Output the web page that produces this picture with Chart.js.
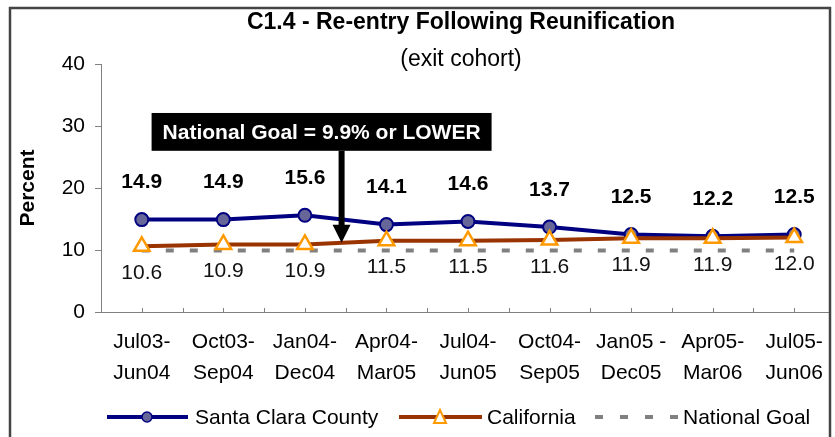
<!DOCTYPE html>
<html>
<head>
<meta charset="utf-8">
<script src="https://cdn.jsdelivr.net/npm/chart.js@4.4.1/dist/chart.umd.min.js"></script>
<style>
  html, body { margin: 0; padding: 0; background: #fff; }
  #wrap { width: 835px; height: 437px; }
</style>
</head>
<body>
<div id="wrap"><canvas id="myChart" width="835" height="437"></canvas></div>
<script>
// data
const periods = [
    ['Jul03-', 'Jun04'],
    ['Oct03-', 'Sep04'],
    ['Jan04-', 'Dec04'],
    ['Apr04-', 'Mar05'],
    ['Jul04-', 'Jun05'],
    ['Oct04-', 'Sep05'],
    ['Jan05 -', 'Dec05'],
    ['Apr05-', 'Mar06'],
    ['Jul05-', 'Jun06'],
];
const santaClara = [14.9, 14.9, 15.6, 14.1, 14.6, 13.7, 12.5, 12.2, 12.5];
const california = [10.6, 10.9, 10.9, 11.5, 11.5, 11.6, 11.9, 11.9, 12.0];
const nationalGoal = [9.9, 9.9, 9.9, 9.9, 9.9, 9.9, 9.9, 9.9, 9.9];
const yMin = 0, yMax = 40, yStep = 10;

const FONT = "'Liberation Sans', Arial, sans-serif";
const NAVY = '#000080';
const SLATE = '#666699';
const BROWN = '#993300';
const ORANGE = '#FF9900';
const GRAY = '#808080';

// titles, frame, goal callout, value labels, legend
const decorations = {
    id: 'decorations',
    beforeDraw(chart) {
        const ctx = chart.ctx;
        ctx.save();
        ctx.fillStyle = '#fff';
        ctx.fillRect(0, 0, chart.width, chart.height);
        ctx.restore();
    },
    afterDatasetsDraw(chart) {
        const ctx = chart.ctx;
        ctx.save();
        ctx.textAlign = 'center';
        ctx.textBaseline = 'middle';
        // santa clara labels above
        ctx.font = 'bold 21px ' + FONT;
        ctx.fillStyle = '#000';
        chart.getDatasetMeta(0).data.forEach((pt, i) => {
            ctx.fillText(santaClara[i].toFixed(1), pt.x, pt.y - 37);
        });
        // california labels below
        ctx.font = '21px ' + FONT;
        ctx.fillStyle = '#111';
        chart.getDatasetMeta(1).data.forEach((pt, i) => {
            ctx.fillText(california[i].toFixed(1), pt.x, pt.y + 27);
        });
        ctx.restore();
    },
    afterDraw(chart) {
        const ctx = chart.ctx;
        const area = chart.chartArea;
        const x = chart.scales.x;
        const y = chart.scales.y;
        ctx.save();

        // little tick marks along the x axis
        ctx.strokeStyle = GRAY;
        ctx.lineWidth = 1;
        const half = (area.right - area.left) / (periods.length * 2);
        for (let k = 1; k <= periods.length * 2; k++) {
            const px = Math.round(area.left + k * half) + 0.5;
            ctx.beginPath();
            ctx.moveTo(px, area.bottom);
            ctx.lineTo(px, area.bottom - 4);
            ctx.stroke();
        }

        // title
        ctx.fillStyle = '#000';
        ctx.textAlign = 'center';
        ctx.textBaseline = 'middle';
        ctx.font = 'bold 23px ' + FONT;
        ctx.fillText('C1.4 - Re-entry Following Reunification', 461, 23);
        ctx.font = '23px ' + FONT;
        ctx.fillText('(exit cohort)', 461, 60);

        // national goal callout with arrow down to the california line
        const at = 2.45;
        const i0 = Math.floor(at);
        const tipVal = california[i0] + (california[i0 + 1] - california[i0]) * (at - i0);
        const ax = x.getPixelForValue(at);
        const ay = y.getPixelForValue(tipVal);
        const boxTop = y.getPixelForValue(32.1);
        const boxBot = y.getPixelForValue(26);
        const boxL = ax - 190, boxR = ax + 150;
        ctx.fillStyle = '#000';
        ctx.fillRect(ax - 3, boxBot, 6, ay - boxBot - 16);
        ctx.beginPath();
        ctx.moveTo(ax - 9, ay - 18);
        ctx.lineTo(ax + 9, ay - 18);
        ctx.lineTo(ax, ay);
        ctx.closePath();
        ctx.fill();
        ctx.fillRect(boxL, boxTop, boxR - boxL, boxBot - boxTop);
        ctx.fillStyle = '#fff';
        ctx.font = 'bold 21px ' + FONT;
        ctx.fillText('National Goal = 9.9% or LOWER', (boxL + boxR) / 2, (boxTop + boxBot) / 2 + 1);

        // legend
        const ly = 417;
        ctx.textAlign = 'left';
        ctx.font = '21px ' + FONT;
        ctx.lineWidth = 4;
        ctx.strokeStyle = NAVY;
        ctx.beginPath(); ctx.moveTo(107, ly); ctx.lineTo(188, ly); ctx.stroke();
        ctx.beginPath(); ctx.arc(147, ly, 5, 0, Math.PI * 2);
        ctx.fillStyle = SLATE; ctx.fill();
        ctx.lineWidth = 1.5; ctx.stroke();
        ctx.fillStyle = '#000';
        ctx.fillText('Santa Clara County', 195, ly + 1);

        ctx.lineWidth = 4;
        ctx.strokeStyle = BROWN;
        ctx.beginPath(); ctx.moveTo(399, ly); ctx.lineTo(482, ly); ctx.stroke();
        ctx.beginPath();
        ctx.moveTo(440, ly - 7); ctx.lineTo(446, ly + 6); ctx.lineTo(434, ly + 6); ctx.closePath();
        ctx.fillStyle = '#fff'; ctx.fill();
        ctx.strokeStyle = ORANGE; ctx.lineWidth = 2; ctx.stroke();
        ctx.fillStyle = '#000';
        ctx.fillText('California', 487, ly + 1);

        ctx.strokeStyle = GRAY;
        ctx.lineWidth = 4;
        ctx.setLineDash([8, 17]);
        ctx.beginPath(); ctx.moveTo(595, ly); ctx.lineTo(680, ly); ctx.stroke();
        ctx.setLineDash([]);
        ctx.fillText('National Goal', 683, ly + 1);

        // outer frame
        ctx.fillStyle = '#fff';
        ctx.fillRect(831, 0, chart.width - 831, chart.height);
        ctx.strokeStyle = '#444';
        ctx.lineWidth = 2.5;
        ctx.strokeRect(10, 8, 820, chart.height + 10);
        ctx.restore();
    }
};

const data = {
    labels: periods,
    datasets: [{
        label: 'Santa Clara County',
        data: santaClara,
        borderColor: NAVY,
        backgroundColor: SLATE,
        borderWidth: 4,
        pointRadius: 6.5,
        pointHoverRadius: 6.5,
        pointBorderWidth: 2,
        pointBorderColor: NAVY,
        pointBackgroundColor: SLATE,
        order: 1,
    }, {
        label: 'California',
        data: california,
        borderColor: BROWN,
        backgroundColor: '#fff',
        borderWidth: 4,
        pointStyle: 'triangle',
        pointRadius: 9,
        pointHoverRadius: 9,
        pointBorderWidth: 2.5,
        pointBorderColor: ORANGE,
        pointBackgroundColor: '#fff',
        order: 0,
    }, {
        label: 'National Goal',
        data: nationalGoal,
        borderColor: GRAY,
        borderWidth: 4,
        borderDash: [8, 16],
        pointRadius: 0,
        order: 2,
    }]
};

const config = {
    type: 'line',
    data: data,
    plugins: [decorations],
    options: {
        responsive: false,
        animation: false,
        layout: {
            autoPadding: false,
            padding: { top: 64, left: 0, right: 0, bottom: 0 }
        },
        scales: {
            x: {
                offset: true,
                afterFit: (s) => { s.height = 125; },
                grid: {
                    display: true,
                    drawOnChartArea: false,
                    drawTicks: true,
                    tickLength: 14,
                    tickColor: 'rgba(0,0,0,0)',
                },
                border: { color: GRAY, width: 1 },
                ticks: {
                    padding: 0,
                    color: '#000',
                    maxRotation: 0,
                    autoSkip: false,
                    font: { family: FONT, size: 21, lineHeight: 1.5 }
                }
            },
            y: {
                min: yMin,
                max: yMax,
                afterFit: (s) => { s.width = 101; },
                grid: {
                    drawOnChartArea: false,
                    tickLength: 6,
                    color: GRAY,
                },
                border: { color: GRAY, width: 1 },
                ticks: {
                    stepSize: yStep,
                    padding: 10,
                    color: '#000',
                    font: { family: FONT, size: 21 }
                },
                title: {
                    display: true,
                    text: 'Percent',
                    color: '#000',
                    padding: { top: 16, bottom: 0 },
                    font: { family: FONT, size: 21, weight: 'bold' }
                }
            }
        },
        plugins: {
            legend: { display: false },
            tooltip: { enabled: false }
        }
    }
};

const myChart = new Chart(document.getElementById('myChart'), config);
</script>
</body>
</html>
